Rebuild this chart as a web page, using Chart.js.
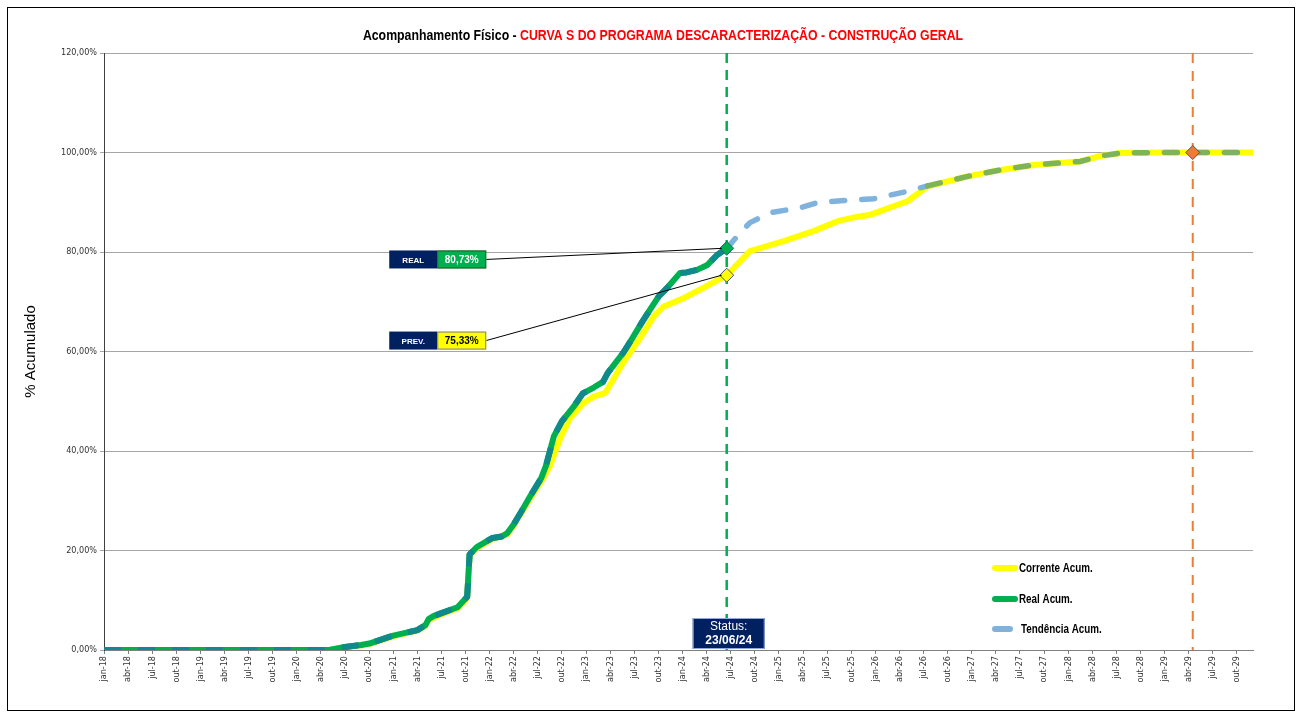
<!DOCTYPE html>
<html>
<head>
<meta charset="utf-8">
<title>Curva S</title>
<script src="https://cdn.jsdelivr.net/npm/chart.js@4.4.1/dist/chart.umd.min.js"></script>
<style>
body { margin: 0; background: #fff; }
#frame { position: absolute; left: 7px; top: 7px; width: 1286px; height: 702px; border: 1px solid #000; }
#mycanvas { position: absolute; left: 0; top: 0; }
</style>
</head>
<body>
<div id="frame"></div>
<canvas id="mycanvas" width="1301" height="717"></canvas>
<script>
var monthNames = ['jan', 'fev', 'mar', 'abr', 'mai', 'jun', 'jul', 'ago', 'set', 'out', 'nov', 'dez'];
var years = ['18', '19', '20', '21', '22', '23', '24', '25', '26', '27', '28', '29'];
var yTicks = [0, 20, 40, 60, 80, 100, 120];

// x = month index from jan-18, y = % acumulado
var correnteX = [0, 28, 30, 33, 36, 39, 40, 40.4, 42, 44, 45.2, 45.5, 46.4, 48.3, 50.2, 51, 52, 53, 54.4, 55.5, 56.8, 58, 59.65, 61, 62.4, 64.6, 66.8, 68.4, 69.6, 72.1, 74.6, 77.5, 80.4, 84.6, 88.3, 91.3, 93.8, 95.4, 100, 102.5, 107.5, 111.6, 115.7, 121.5, 124, 126.5, 131.5, 143];
var correnteY = [0, 0, 0.5, 1.2, 2.8, 3.9, 4.9, 6.0, 7.2, 8.4, 10.5, 19.0, 20.5, 22.3, 23.3, 25.1, 27.7, 30.4, 33.8, 37, 42.6, 46.6, 49.6, 51, 51.7, 57.7, 62.9, 67, 69, 70.7, 72.8, 75.33, 80.2, 82.2, 84.2, 86.2, 87.1, 87.5, 90.2, 93.2, 95.2, 96.5, 97.5, 98.2, 99.3, 99.9, 100, 100];

var realX = [0, 28, 29, 30, 32, 33, 36, 39, 40, 40.4, 41, 42, 44, 45.2, 45.5, 46.4, 48.3, 49.5, 50.2, 51, 52, 53, 54.4, 55, 56, 57, 58.4, 59.6, 61, 62.1, 62.7, 64.6, 65.5, 67, 68, 69, 70.2, 71.7, 72.5, 73.8, 75.1, 76.3, 77.5];
var realY = [0, 0, 0.3, 0.6, 1.0, 1.3, 2.9, 4.0, 5.0, 6.2, 6.8, 7.4, 8.6, 10.7, 19.2, 20.7, 22.5, 22.8, 23.5, 25.3, 28, 30.8, 34.5, 37, 43, 46, 48.8, 51.6, 52.8, 53.9, 55.7, 59.7, 62, 66, 68.5, 71, 73, 75.8, 75.9, 76.4, 77.4, 79.4, 80.73];

var tendenciaX = [77.5, 79.2, 80.4, 82.9, 86.7, 88.75, 91.7, 95.8, 100, 102.5, 107.5, 111.6, 115.7, 121.5, 124, 126.5, 131.5, 143];
var tendenciaY = [80.73, 83.9, 85.9, 87.9, 88.9, 89.9, 90.3, 90.7, 92.2, 93.3, 95.2, 96.5, 97.5, 98.2, 99.3, 99.9, 100, 100];
var mergeMonth = 102.5;

var statusMonth = 77.5;
var statusDate = '23/06/24';
var realStatus = 80.73;
var prevStatus = 75.33;
var endMonth = 135.5;
var endValue = 100;

var monthLabels = [];
for (var a = 0; a < years.length; a++) {
    for (var b = 0; b < monthNames.length; b++) {
        monthLabels.push(monthNames[b] + '-' + years[a]);
    }
}

function pairs(xs, ys) {
    var out = [];
    for (var i = 0; i < xs.length; i++) out.push({ x: xs[i], y: ys[i] });
    return out;
}

function pct(v) {
    return v.toFixed(2).replace('.', ',') + '%';
}

var narrow = "'Liberation Sans Narrow', 'Arial Narrow', 'DejaVu Sans Condensed', sans-serif";
var squeeze = 0.82; // Arial Narrow look from Liberation Sans

// draws left-aligned text squeezed horizontally, returns its width
function narrowText(ctx, txt, x, y) {
    ctx.save();
    ctx.translate(x, y);
    ctx.scale(squeeze, 1);
    ctx.fillText(txt, 0, 0);
    ctx.restore();
    return ctx.measureText(txt).width * squeeze;
}

var overlay = {
    id: 'overlay',
    beforeDatasetsDraw: function (chart) {
        var ctx = chart.ctx, area = chart.chartArea, xs = chart.scales.x;
        ctx.save();
        ctx.lineWidth = 2.5;
        ctx.setLineDash([10, 7]);
        ctx.strokeStyle = '#00B050';
        var sx = xs.getPixelForValue(statusMonth);
        ctx.beginPath(); ctx.moveTo(sx, area.top); ctx.lineTo(sx, area.bottom); ctx.stroke();
        ctx.lineWidth = 2;
        ctx.setLineDash([10, 8]);
        ctx.strokeStyle = '#ED7D31';
        var ex = xs.getPixelForValue(endMonth);
        ctx.beginPath(); ctx.moveTo(ex, area.top); ctx.lineTo(ex, area.bottom); ctx.stroke();
        ctx.restore();
    },
    afterDatasetsDraw: function (chart) {
        var ctx = chart.ctx, xs = chart.scales.x, ys = chart.scales.y;
        var marks = chart.getDatasetMeta(0).data;
        var boxes = [
            { tag: 'REAL', text: pct(realStatus), y: 78.5, fill: '#00B050', border: '#385723', color: '#fff', mark: marks[0] },
            { tag: 'PREV.', text: pct(prevStatus), y: 62.2, fill: '#FFFF00', border: '#7F7F7F', color: '#000', mark: marks[1] }
        ];
        ctx.save();
        boxes.forEach(function (bx) {
            var left = xs.getPixelForValue(35.5);
            var cy = ys.getPixelForValue(bx.y);
            var h = 18, w1 = 48, w2 = 49;
            ctx.strokeStyle = '#000';
            ctx.lineWidth = 1;
            ctx.beginPath();
            ctx.moveTo(left + w1 + w2, cy);
            ctx.lineTo(bx.mark.x - 5, bx.mark.y);
            ctx.stroke();
            ctx.fillStyle = '#002060';
            ctx.fillRect(left, cy - h / 2, w1, h);
            ctx.fillStyle = bx.fill;
            ctx.fillRect(left + w1, cy - h / 2, w2, h);
            ctx.strokeStyle = bx.border;
            ctx.strokeRect(left + w1 + 0.5, cy - h / 2 + 0.5, w2 - 1, h - 1);
            ctx.textAlign = 'center';
            ctx.textBaseline = 'middle';
            ctx.fillStyle = '#fff';
            ctx.font = "bold 8px 'Liberation Sans', sans-serif";
            ctx.fillText(bx.tag, left + w1 / 2, cy + 1);
            ctx.fillStyle = bx.color;
            ctx.font = "bold 10px 'Liberation Sans', sans-serif";
            ctx.fillText(bx.text, left + w1 + w2 / 2, cy + 1);
        });
        ctx.restore();
    },
    afterDraw: function (chart) {
        var ctx = chart.ctx, area = chart.chartArea, xs = chart.scales.x;
        ctx.save();
        // title, two colours
        var t1 = 'Acompanhamento Físico - ';
        var t2 = 'CURVA S DO PROGRAMA DESCARACTERIZAÇÃO - CONSTRUÇÃO GERAL';
        ctx.font = "bold 15px 'Liberation Sans', Arial, sans-serif";
        ctx.textBaseline = 'middle';
        ctx.textAlign = 'left';
        var w1 = ctx.measureText(t1).width * squeeze, w2 = ctx.measureText(t2).width * squeeze;
        var tx = 663 - (w1 + w2) / 2;
        ctx.fillStyle = '#000';
        narrowText(ctx, t1, tx, 36);
        ctx.fillStyle = '#FF0000';
        narrowText(ctx, t2, tx + w1, 36);

        // legend
        var items = [
            { label: 'Corrente Acum.', color: '#FFFF00', y: 568, x0: 995, x1: 1015 },
            { label: 'Real Acum.', color: '#00B050', y: 599, x0: 995, x1: 1015 },
            { label: 'Tendência Acum.', color: '#7FB3DE', y: 629, x0: 995, x1: 1010 }
        ];
        ctx.lineCap = 'round';
        ctx.lineWidth = 6;
        ctx.font = "bold 12px 'Liberation Sans', Arial, sans-serif";
        items.forEach(function (it) {
            ctx.strokeStyle = it.color;
            ctx.beginPath(); ctx.moveTo(it.x0, it.y); ctx.lineTo(it.x1, it.y); ctx.stroke();
            ctx.fillStyle = '#000';
            narrowText(ctx, it.label, it.x1 + 4 + (it.x1 < 1015 ? 7 : 0), it.y + 1);
        });

        // status box
        var sx = xs.getPixelForValue(statusMonth) + 2;
        var bw = 72, bh = 31;
        ctx.fillStyle = '#002060';
        ctx.fillRect(sx - bw / 2, area.bottom - bh - 1, bw, bh);
        ctx.strokeStyle = '#8EA9DB';
        ctx.lineWidth = 1;
        ctx.strokeRect(sx - bw / 2 + 0.5, area.bottom - bh - 0.5, bw - 1, bh - 1);
        ctx.fillStyle = '#fff';
        ctx.textAlign = 'center';
        ctx.font = "12px 'Liberation Sans', sans-serif";
        ctx.fillText('Status:', sx, area.bottom - 23);
        ctx.font = "bold 12px 'Liberation Sans', sans-serif";
        ctx.fillText(statusDate, sx, area.bottom - 9);
        ctx.restore();
    }
};

var chartdata = {
    datasets: [
        {
            type: 'scatter',
            label: 'marcos',
            data: [{ x: statusMonth, y: realStatus }, { x: statusMonth, y: prevStatus }, { x: endMonth, y: endValue }],
            pointStyle: 'rectRot',
            pointRadius: 7,
            pointBackgroundColor: ['#00B050', '#FFFF00', '#ED7D31'],
            pointBorderColor: '#44546A',
            pointBorderWidth: 1,
            order: 0
        },
        {
            label: 'Real Acum. (traço)',
            data: pairs(realX, realY),
            borderColor: '#10898C',
            borderWidth: 6,
            borderDash: [17, 17],
            pointRadius: 0,
            order: 1
        },
        {
            label: 'Real Acum.',
            data: pairs(realX, realY),
            borderColor: '#00B050',
            borderWidth: 6,
            borderJoinStyle: 'round',
            pointRadius: 0,
            order: 2
        },
        {
            label: 'Tendência Acum.',
            data: pairs(tendenciaX, tendenciaY),
            borderColor: '#7FB3DE',
            borderWidth: 5.5,
            borderDash: [13, 17],
            borderCapStyle: 'round',
            pointRadius: 0,
            segment: {
                borderColor: function (c) { return c.p0.parsed.x >= mergeMonth ? '#7DB45A' : '#7FB3DE'; }
            },
            order: 3
        },
        {
            label: 'Corrente Acum.',
            data: pairs(correnteX, correnteY),
            borderColor: '#FFFF00',
            borderWidth: 6,
            borderJoinStyle: 'round',
            pointRadius: 0,
            order: 4
        }
    ]
};

var graphTarget = document.getElementById('mycanvas');

var lineGraph = new Chart(graphTarget, {
    type: 'line',
    data: chartdata,
    plugins: [overlay],
    options: {
        responsive: false,
        animation: false,
        layout: { padding: { left: 18, top: 53, right: 48, bottom: 0 } },
        plugins: {
            legend: { display: false },
            tooltip: { enabled: false }
        },
        scales: {
            x: {
                type: 'linear',
                min: 0,
                max: monthLabels.length - 1,
                afterBuildTicks: function (scale) {
                    var t = [];
                    for (var i = 0; i < monthLabels.length; i += 3) t.push({ value: i });
                    scale.ticks = t;
                },
                afterFit: function (scale) { scale.height = 67; },
                ticks: {
                    autoSkip: false,
                    minRotation: 90,
                    maxRotation: 90,
                    padding: 2,
                    color: '#333',
                    font: { family: narrow, size: 9 },
                    callback: function (v) { return monthLabels[v]; }
                },
                grid: { drawOnChartArea: false, tickLength: 4, color: '#808080' },
                border: { color: '#808080' }
            },
            y: {
                min: 0,
                max: 120,
                afterBuildTicks: function (scale) {
                    scale.ticks = yTicks.map(function (v) { return { value: v }; });
                },
                afterFit: function (scale) { scale.width = 86; },
                ticks: {
                    padding: 3,
                    color: '#333',
                    font: { family: narrow, size: 9 },
                    callback: function (v) { return pct(v); }
                },
                grid: { color: '#A6A6A6', tickLength: 4 },
                border: { color: '#404040' },
                title: {
                    display: true,
                    text: '% Acumulado',
                    color: '#000',
                    font: { family: "'Liberation Sans', Arial, sans-serif", size: 15 }
                }
            }
        }
    }
});
</script>
</body>
</html>
